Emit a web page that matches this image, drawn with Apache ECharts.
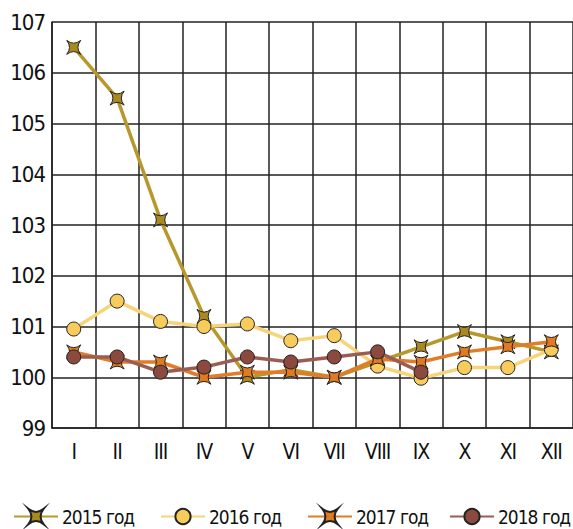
<!DOCTYPE html>
<html><head><meta charset="utf-8">
<script src="https://cdn.jsdelivr.net/npm/echarts@6/dist/echarts.min.js"></script>
<style>html,body{margin:0;padding:0;background:#fff}#c{width:573px;height:529px}
#c text{font-stretch:condensed !important;letter-spacing:-1px;}</style>
</head><body><div id="c"></div>
<script>
const months = ['I','II','III','IV','V','VI','VII','VIII','IX','X','XI','XII'];
const s2015 = [106.5, 105.5, 103.1, 101.2, 100.0, 100.15, 100.0, 100.3, 100.6, 100.9, 100.7, 100.5];
const s2016 = [100.95, 101.5, 101.1, 101.0, 101.05, 100.72, 100.82, 100.22, 99.98, 100.19, 100.19, 100.55];
const s2017 = [100.5, 100.3, 100.3, 100.0, 100.1, 100.1, 100.0, 100.36, 100.3, 100.5, 100.6, 100.7];
const s2018 = [100.4, 100.4, 100.1, 100.2, 100.4, 100.3, 100.4, 100.5, 100.1, null, null, null];
const names = ['2015 год','2016 год','2017 год','2018 год'];
const yTicks = [99, 107, 1];

const FONT = '"DejaVu Sans",sans-serif';
const star = 'path://M0,0 Q5,4 10,0 Q6,5 10,10 Q5,6 0,10 Q4,5 0,0 Z';
const styles = [
  {line:'#B8972B', fill:'#A98A1F', sym: star, size: 14},
  {line:'#F8D479', fill:'#F8CC5C', sym: 'circle', size: 14},
  {line:'#E27C28', fill:'#E27A22', sym: star, size: 14},
  {line:'#9B5C52', fill:'#8B4A3D', sym: 'circle', size: 14}
];
const datas = [s2015, s2016, s2017, s2018];

const chart = echarts.init(document.getElementById('c'), null, {renderer: 'svg'});
const series = datas.map((d, i) => ({
  name: names[i], type: 'line', data: d,
  symbol: styles[i].sym, symbolSize: styles[i].size,
  lineStyle: {color: styles[i].line, width: 3.5},
  itemStyle: {color: styles[i].fill, borderColor: '#222', borderWidth: 1},
  z: 2 + i
}));
const legendLeft = [8, 155, 302, 444];
const legends = names.map((n, i) => ({
  data: [n], left: legendLeft[i], top: 502, itemWidth: 44, itemHeight: 19, itemGap: 0,
  textStyle: {fontFamily: FONT, fontSize: 19, color: '#111', padding: [0,0,0,-1]}
}));
chart.setOption({
  animation: false,
  grid: {left: 52, top: 22, width: 526, height: 406},
  legend: legends,
  xAxis: {
    type: 'category', data: months, boundaryGap: true,
    axisLine: {show: true, lineStyle: {color: '#222', width: 1.5}},
    axisTick: {show: false},
    splitLine: {show: true, lineStyle: {color: '#222', width: 1.5}},
    axisLabel: {fontFamily: FONT, fontSize: 21, color: '#111', margin: 13, interval: 0}
  },
  yAxis: {
    type: 'value', min: yTicks[0], max: yTicks[1], interval: yTicks[2],
    axisLine: {show: true, lineStyle: {color: '#222', width: 1.5}},
    axisTick: {show: false},
    splitLine: {show: true, lineStyle: {color: '#222', width: 1.5}},
    axisLabel: {fontFamily: FONT, fontSize: 22, color: '#111', margin: 7}
  },
  series: series
});
</script></body></html>
